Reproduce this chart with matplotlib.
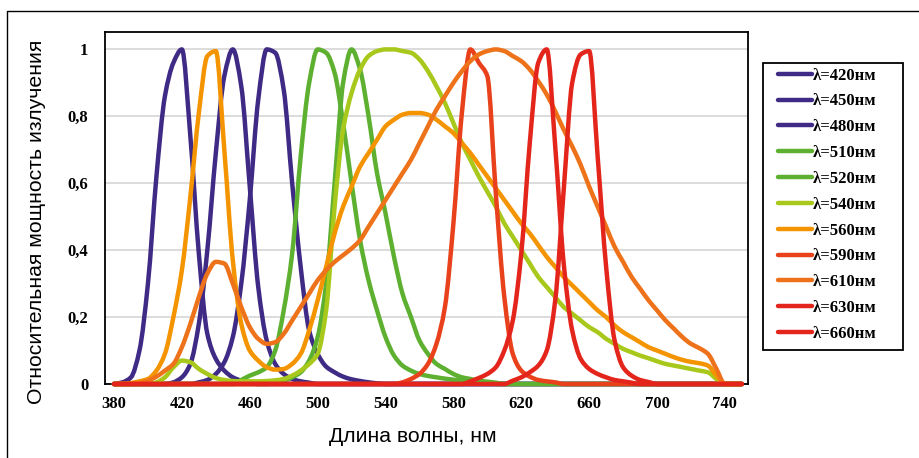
import matplotlib
matplotlib.use("Agg")
import matplotlib.pyplot as plt
from matplotlib.lines import Line2D
from matplotlib.patches import Rectangle, PathPatch
from matplotlib.path import Path

# wavelength categories (nm)
wavelengths = list(range(380, 755, 5))

s420 = [0, 0.005, 0.02, 0.1, 0.3, 0.62, 0.86, 0.96, 1.0, 0.74, 0.39, 0.15, 0.075, 0.04, 0.02, 0.01, 0.005,
        0, 0, 0, 0, 0, 0, 0, 0, 0, 0, 0, 0, 0, 0, 0, 0, 0, 0, 0, 0, 0, 0, 0, 0, 0, 0, 0, 0, 0, 0,
        0, 0, 0, 0, 0, 0, 0, 0, 0, 0, 0, 0, 0, 0, 0, 0, 0, 0, 0, 0, 0, 0, 0, 0, 0, 0, 0, 0]
s450 = [0, 0, 0, 0, 0, 0, 0,
        0.005, 0.02, 0.06, 0.18, 0.4, 0.69, 0.92, 1.0, 0.89, 0.59, 0.29, 0.13, 0.06, 0.03, 0.015, 0.008, 0.004,
        0, 0, 0, 0, 0, 0, 0, 0, 0, 0, 0, 0, 0, 0, 0, 0, 0, 0, 0, 0, 0, 0, 0, 0, 0, 0, 0, 0, 0, 0, 0,
        0, 0, 0, 0, 0, 0, 0, 0, 0, 0, 0, 0, 0, 0, 0, 0, 0, 0, 0, 0]
s480 = [0, 0, 0, 0, 0, 0, 0, 0, 0, 0,
        0.005, 0.012, 0.03, 0.065, 0.14, 0.3, 0.55, 0.85, 1.0, 0.99, 0.88, 0.6, 0.35, 0.16, 0.09, 0.052,
        0.035, 0.022, 0.014, 0.009, 0.005, 0.002,
        0, 0, 0, 0, 0, 0, 0, 0, 0, 0, 0, 0, 0, 0, 0, 0, 0, 0, 0, 0, 0, 0, 0, 0, 0, 0, 0, 0, 0, 0,
        0, 0, 0, 0, 0, 0, 0, 0, 0, 0, 0, 0, 0]
s510 = [0, 0, 0, 0, 0, 0, 0, 0, 0, 0, 0, 0, 0, 0, 0,
        0.012, 0.025, 0.035, 0.05, 0.1, 0.22, 0.39, 0.68, 0.9, 1.0, 0.99, 0.93, 0.78, 0.6, 0.43, 0.31,
        0.22, 0.14, 0.085, 0.055, 0.04, 0.03, 0.024, 0.02, 0.016, 0.013, 0.01, 0.008, 0.006, 0.004,
        0, 0, 0, 0, 0, 0, 0, 0, 0, 0, 0, 0, 0, 0, 0, 0, 0, 0, 0, 0, 0, 0, 0, 0, 0, 0, 0, 0, 0, 0]
s520 = [0, 0, 0, 0, 0, 0, 0, 0, 0, 0, 0, 0, 0, 0, 0, 0, 0, 0, 0,
        0.005, 0.01, 0.02, 0.035, 0.07, 0.14, 0.3, 0.6, 0.9, 1.0, 0.94, 0.8, 0.63, 0.51, 0.38, 0.27,
        0.2, 0.13, 0.09, 0.06, 0.045, 0.03, 0.02, 0.015, 0.01, 0.007, 0.004,
        0, 0, 0, 0, 0, 0, 0, 0, 0, 0, 0, 0, 0, 0, 0, 0, 0, 0, 0, 0, 0, 0, 0, 0, 0, 0, 0, 0, 0]
s540 = [0, 0, 0, 0, 0,
        0.005, 0.02, 0.05, 0.07, 0.065, 0.045, 0.03, 0.018, 0.012, 0.009, 0.008, 0.008, 0.008, 0.009,
        0.011, 0.015, 0.025, 0.04, 0.06, 0.09, 0.22, 0.53, 0.76, 0.87, 0.94, 0.98, 0.995, 1.0, 1.0,
        0.995, 0.99, 0.97, 0.935, 0.89, 0.84, 0.78, 0.72, 0.67, 0.62, 0.575, 0.53, 0.48, 0.44, 0.4,
        0.36, 0.32, 0.29, 0.26, 0.23, 0.21, 0.19, 0.17, 0.155, 0.135, 0.12, 0.105, 0.095, 0.085,
        0.077, 0.068, 0.06, 0.055, 0.05, 0.045, 0.04, 0.035, 0.015, 0, 0, 0]
s560 = [0, 0, 0.003, 0.008, 0.015, 0.04, 0.09, 0.2, 0.34, 0.56, 0.81, 0.98, 0.995, 0.7, 0.37, 0.18,
        0.1, 0.07, 0.05, 0.043, 0.045, 0.06, 0.09, 0.16, 0.25, 0.35, 0.45, 0.53, 0.59, 0.65, 0.69,
        0.73, 0.77, 0.79, 0.805, 0.81, 0.81, 0.805, 0.79, 0.77, 0.75, 0.72, 0.69, 0.655, 0.62, 0.585,
        0.55, 0.515, 0.48, 0.45, 0.415, 0.38, 0.35, 0.32, 0.295, 0.27, 0.245, 0.22, 0.2, 0.175, 0.155,
        0.14, 0.125, 0.11, 0.1, 0.09, 0.08, 0.072, 0.066, 0.062, 0.055, 0.025, 0, 0, 0]
s590 = [0, 0, 0, 0, 0, 0, 0, 0, 0, 0, 0, 0, 0, 0, 0, 0, 0, 0, 0, 0, 0, 0, 0, 0, 0, 0, 0, 0, 0, 0,
        0, 0, 0, 0,
        0.005, 0.015, 0.03, 0.06, 0.12, 0.23, 0.48, 0.81, 1.0, 0.96, 0.92, 0.57, 0.26, 0.09, 0.04,
        0.022, 0.012, 0.008, 0.005,
        0, 0, 0, 0, 0, 0, 0, 0, 0, 0, 0, 0, 0, 0, 0, 0, 0, 0, 0, 0, 0, 0]
s610 = [0, 0, 0,
        0.003, 0.01, 0.022, 0.04, 0.06, 0.11, 0.18, 0.26, 0.33, 0.365, 0.36, 0.3, 0.23, 0.17, 0.135,
        0.12, 0.125, 0.15, 0.19, 0.23, 0.27, 0.31, 0.34, 0.365, 0.385, 0.405, 0.43, 0.47, 0.51, 0.55,
        0.59, 0.63, 0.67, 0.72, 0.77, 0.82, 0.86, 0.9, 0.935, 0.965, 0.985, 0.995, 1.0, 0.995, 0.98, 0.965,
        0.94, 0.905, 0.865, 0.815, 0.76, 0.71, 0.655, 0.59, 0.53, 0.47, 0.41, 0.365, 0.32, 0.285, 0.25,
        0.22, 0.19, 0.165, 0.14, 0.12, 0.107, 0.09, 0.045, 0, 0, 0]
s630 = [0, 0, 0, 0, 0, 0, 0, 0, 0, 0, 0, 0, 0, 0, 0, 0, 0, 0, 0, 0, 0, 0, 0, 0, 0, 0, 0, 0, 0, 0,
        0, 0, 0, 0, 0, 0, 0, 0, 0, 0, 0, 0,
        0.008, 0.018, 0.03, 0.05, 0.1, 0.19, 0.39, 0.72, 0.96, 1.0, 0.71, 0.36, 0.16, 0.075, 0.045,
        0.03, 0.02, 0.012, 0.008, 0.004,
        0, 0, 0, 0, 0, 0, 0, 0, 0, 0, 0, 0, 0]
s660 = [0, 0, 0, 0, 0, 0, 0, 0, 0, 0, 0, 0, 0, 0, 0, 0, 0, 0, 0, 0, 0, 0, 0, 0, 0, 0, 0, 0, 0, 0,
        0, 0, 0, 0, 0, 0, 0, 0, 0, 0, 0, 0, 0, 0, 0, 0, 0,
        0.01, 0.02, 0.035, 0.055, 0.1, 0.25, 0.58, 0.9, 0.985, 0.995, 0.68, 0.35, 0.13, 0.05, 0.025,
        0.012, 0.006,
        0, 0, 0, 0, 0, 0, 0, 0, 0, 0, 0]

series_labels = ["λ=420нм", "λ=450нм", "λ=480нм", "λ=510нм", "λ=520нм", "λ=540нм",
                 "λ=560нм", "λ=590нм", "λ=610нм", "λ=630нм", "λ=660нм"]
series_values = [s420, s450, s480, s510, s520, s540, s560, s590, s610, s630, s660]
series_colors = ["#3f2a85", "#3f2a85", "#3f2a85", "#5eb030", "#5eb030", "#a8c81c",
                 "#f39400", "#e8411b", "#ee7219", "#e3251b", "#e3251b"]

xticks = [380, 420, 460, 500, 540, 580, 620, 660, 700, 740]
yticks = [0, 0.2, 0.4, 0.6, 0.8, 1.0]
ytick_labels = ["0", "0,2", "0,4", "0,6", "0,8", "1"]


def smooth_path(xs, ys):
    """Smoothed line through the data points (monotone cubic Bezier segments)."""
    n = len(xs)
    d = [(ys[i + 1] - ys[i]) / (xs[i + 1] - xs[i]) for i in range(n - 1)]
    m = [0.0] * n
    m[0], m[-1] = d[0], d[-1]
    for i in range(1, n - 1):
        if d[i - 1] * d[i] <= 0:
            m[i] = 0.0
        else:
            m[i] = 2.0 / (1.0 / d[i - 1] + 1.0 / d[i])
    verts = [(xs[0], ys[0])]
    codes = [Path.MOVETO]
    for i in range(n - 1):
        h = xs[i + 1] - xs[i]
        verts += [(xs[i] + h / 3, ys[i] + m[i] * h / 3),
                  (xs[i + 1] - h / 3, ys[i + 1] - m[i + 1] * h / 3),
                  (xs[i + 1], ys[i + 1])]
        codes += [Path.CURVE4] * 3
    return Path(verts, codes)


W, H = 920, 458
fig = plt.figure(figsize=(W / 100, H / 100), dpi=100)
ax = fig.add_axes([105 / W, 1 - 384 / H, (748 - 105) / W, (384 - 32) / H])

LW = 3.2
handles = []
for k, (vals, lab, col) in enumerate(zip(series_values, series_labels, series_colors)):
    patch = PathPatch(smooth_path(wavelengths, vals), fill=False, edgecolor=col, lw=LW,
                      capstyle="round", joinstyle="round", clip_on=False, zorder=3 + k * 0.01)
    ax.add_patch(patch)
    handles.append(Line2D([], [], color=col, lw=LW, solid_capstyle="round", label=lab))

ax.set_xlim(374.7, 753.6)
ax.set_ylim(0, 1.052)
ax.set_xticks(xticks)
ax.set_xticklabels([str(t) for t in xticks])
ax.set_yticks(yticks)
ax.set_yticklabels(ytick_labels)
ax.tick_params(length=0)
ax.tick_params(axis="x", pad=9)
ax.tick_params(axis="y", pad=12)
for lbl in ax.get_xticklabels() + ax.get_yticklabels():
    lbl.set_fontfamily("Liberation Serif")
    lbl.set_fontweight("bold")
    lbl.set_fontsize(12)
ax.grid(axis="y", color="#d9d9d9", lw=1.3, zorder=0)
ax.set_axisbelow(True)
for sp in ax.spines.values():
    sp.set_color("black")
    sp.set_linewidth(1.3)

fig.text(37 / W, 1 - 222 / H, "Относительная мощность излучения", rotation=90,
         ha="center", va="center", fontsize=15.3, family="Liberation Sans")
fig.text(413 / W, 1 - 437 / H, "Длина волны, нм", ha="center", va="center",
         fontsize=15.2, family="Liberation Sans")

leg = fig.legend(handles=handles, loc="upper left",
                 bbox_to_anchor=(778 / W, 1 - 67.5 / H), frameon=False,
                 prop={"family": "Liberation Serif", "weight": "bold", "size": 12},
                 handlelength=2.05, handletextpad=0.05, labelspacing=0.59,
                 borderpad=0, borderaxespad=0)

fig.add_artist(Rectangle((763 / W, 1 - 350 / H), 140 / W, 287 / H, transform=fig.transFigure,
                         fill=False, edgecolor="black", lw=1.3))
fig.add_artist(Line2D([7 / W, 7 / W, 1.0], [0.0, 1 - 11 / H, 1 - 11 / H],
                      transform=fig.transFigure, color="black", lw=1.0))

fig.savefig("out.png", dpi=100)
